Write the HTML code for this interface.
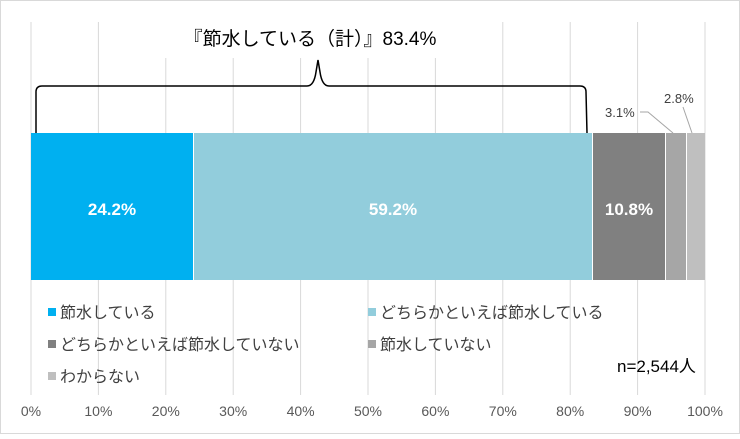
<!DOCTYPE html>
<html><head><meta charset="utf-8"><style>
body{margin:0;background:#fff}
svg text{font-family:"Liberation Sans","Noto Sans CJK JP",sans-serif}
</style></head><body>
<svg width="740" height="434" xmlns="http://www.w3.org/2000/svg">
<rect x="0.5" y="0.5" width="739" height="433" fill="#fff" stroke="#d9d9d9"/>
<g stroke="#d9d9d9" stroke-width="1">
<line x1="31" y1="22" x2="31" y2="395"/><line x1="98.4" y1="22" x2="98.4" y2="395"/>
<line x1="165.8" y1="22" x2="165.8" y2="395"/><line x1="233.2" y1="22" x2="233.2" y2="395"/>
<line x1="300.6" y1="22" x2="300.6" y2="395"/><line x1="368" y1="22" x2="368" y2="395"/>
<line x1="435.4" y1="22" x2="435.4" y2="395"/><line x1="502.8" y1="22" x2="502.8" y2="395"/>
<line x1="570.2" y1="22" x2="570.2" y2="395"/><line x1="637.6" y1="22" x2="637.6" y2="395"/>
<line x1="705" y1="22" x2="705" y2="395"/>
</g>
<rect x="160" y="20" width="300" height="38" fill="#fff"/>
<text x="310" y="45" font-size="19" text-anchor="middle" fill="#000">『節水している（計）』83.4%</text>
<path d="M36,133 L36,92 Q36,86 42,86 L307,86 Q314,86 316,72 L318,60 L320,72 Q322,86 329,86 L580,86 Q586,86 586,92 L587,133" fill="none" stroke="#000" stroke-width="1.5"/>
<rect x="31" y="133" width="162" height="147" fill="#00b0f0"/>
<rect x="194" y="133" width="398" height="147" fill="#92cddc"/>
<rect x="593" y="133" width="72" height="147" fill="#808080"/>
<rect x="666" y="133" width="20" height="147" fill="#a6a6a6"/>
<rect x="687" y="133" width="18" height="147" fill="#bfbfbf"/>
<g font-size="17" font-weight="bold" fill="#fff" text-anchor="middle">
<text x="112" y="215">24.2%</text><text x="393" y="215">59.2%</text><text x="629" y="215">10.8%</text>
</g>
<g font-size="13" fill="#404040">
<text x="605" y="117">3.1%</text><text x="664" y="103">2.8%</text>
</g>
<path d="M640,112 L648,112 L673,133 M683,107 L692,133" fill="none" stroke="#a6a6a6"/>
<g font-size="16" fill="#404040">
<rect x="48" y="308" width="8" height="8" fill="#00b0f0"/><text x="60" y="318">節水している</text>
<rect x="368" y="308" width="8" height="8" fill="#92cddc"/><text x="380" y="318">どちらかといえば節水している</text>
<rect x="48" y="340" width="8" height="8" fill="#808080"/><text x="60" y="350">どちらかといえば節水していない</text>
<rect x="368" y="340" width="8" height="8" fill="#a6a6a6"/><text x="380" y="350">節水していない</text>
<rect x="48" y="372" width="8" height="8" fill="#bfbfbf"/><text x="60" y="382">わからない</text>
</g>
<text x="617" y="372" font-size="17" fill="#000">n=2,544人</text>
<g font-size="14" fill="#595959" text-anchor="middle">
<text x="31" y="416">0%</text><text x="98.4" y="416">10%</text><text x="165.8" y="416">20%</text>
<text x="233.2" y="416">30%</text><text x="300.6" y="416">40%</text><text x="368" y="416">50%</text>
<text x="435.4" y="416">60%</text><text x="502.8" y="416">70%</text><text x="570.2" y="416">80%</text>
<text x="637.6" y="416">90%</text><text x="705" y="416">100%</text>
</g>
</svg>
</body></html>
